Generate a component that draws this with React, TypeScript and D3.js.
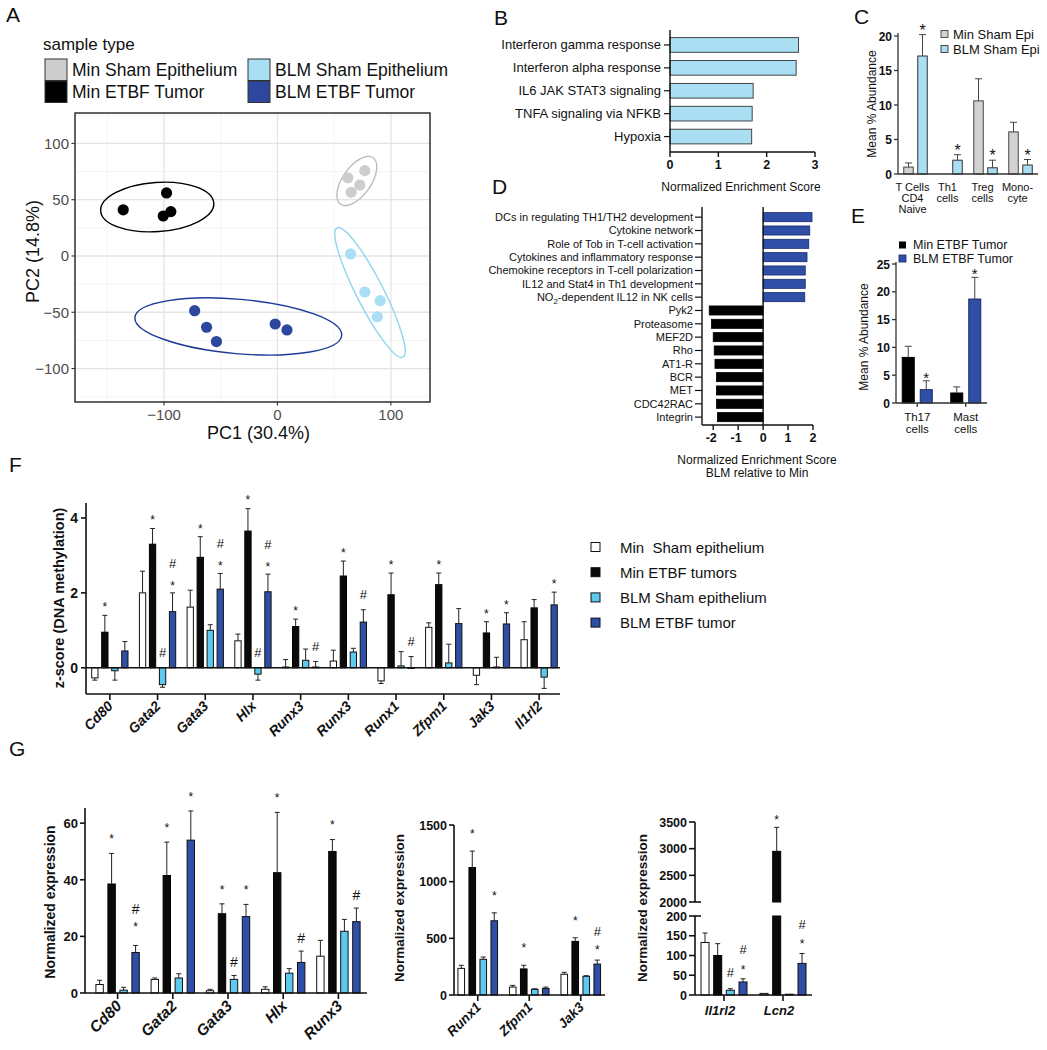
import React from "react";
import * as d3 from "d3";

const FONT = "'Liberation Sans', Arial, Helvetica, sans-serif";

// ---------------- Panel A (PCA) ----------------
const pcaGroups = ["Min Sham Epithelium", "Min ETBF Tumor", "BLM Sham Epithelium", "BLM ETBF Tumor"];
const pcaFill = ["#cdcdcd", "#000000", "#a9def5", "#2d479f"];
const pcaLine = ["#bdbdbd", "#000000", "#8fd4f2", "#1d3a98"];
const pc1MinSham = [62, 77, 72.6, 65];
const pc2MinSham = [69.5, 75.8, 63, 56.6];
const pc1MinTumor = [-136, -97.8, -94, -100.7];
const pc2MinTumor = [41, 56, 39.4, 35.5];
const pc1BlmSham = [64.5, 77, 90.6, 88];
const pc2BlmSham = [1.8, -32, -39.7, -54];
const pc1BlmTumor = [-73, -62.5, -53.8, -2, 8.4];
const pc2BlmTumor = [-48.6, -63.3, -76, -60.4, -65.7];
const ellipseCx = [70, -106, 81.6, -34.5];
const ellipseCy = [66.6, 43.5, -32.4, -62.6];
const ellipseA = [25, 50, 64, 91.5];
const ellipseB = [12.5, 21.7, 12, 24];
const ellipseAngle = [-55, -4, 63, 5];
const pcaXTicks = [-100, 0, 100];
const pcaYTicks = [-100, -50, 0, 50, 100];
const pcaXMinor = [-150, -50, 50];
const pcaYMinor = [-125, -75, -25, 25, 75, 125];

// ---------------- Panel B ----------------
const hallmarkTerms = ["Interferon gamma response", "Interferon alpha response", "IL6 JAK STAT3 signaling", "TNFA signaling via NFKB", "Hypoxia"];
const hallmarkNES = [2.66, 2.61, 1.72, 1.70, 1.69];
const bTicks = [0, 1, 2, 3];

// ---------------- Panel C ----------------
const cCells = [["T Cells", "CD4", "Naive"], ["Th1", "cells"], ["Treg", "cells"], ["Mono-", "cyte"]];
const cMinSham = [1.0, 0, 10.6, 6.1];
const cMinShamErr = [0.6, 0, 3.2, 1.4];
const cBlmSham = [17.1, 2.0, 0.9, 1.3];
const cBlmShamErr = [3.1, 0.8, 1.1, 0.8];
const cBlmShamSig = ["*", "*", "*", "*"];
const cTicks = [0, 5, 10, 15, 20];

// ---------------- Panel D ----------------
const pathwayTerms = [
  "DCs in regulating TH1/TH2 development", "Cytokine network", "Role of Tob in T-cell activation",
  "Cytokines and inflammatory response", "Chemokine receptors in T-cell polarization",
  "IL12 and Stat4 in Th1 development", "NO2-dependent IL12 in NK cells",
  "Pyk2", "Proteasome", "MEF2D", "Rho", "AT1-R", "BCR", "MET", "CDC42RAC", "Integrin",
];
const pathwayNES = [1.96, 1.87, 1.83, 1.76, 1.69, 1.69, 1.67, -2.16, -2.07, -2.0, -1.96, -1.93, -1.87, -1.87, -1.87, -1.83];
const dTicks = [-2, -1, 0, 1, 2];

// ---------------- Panel E ----------------
const eCells = [["Th17", "cells"], ["Mast", "cells"]];
const eMinTumor = [8.2, 1.8];
const eMinTumorErr = [2.0, 1.1];
const eBlmTumor = [2.4, 18.7];
const eBlmTumorErr = [1.6, 3.9];
const eBlmTumorSig = ["*", "*"];
const eTicks = [0, 5, 10, 15, 20, 25];

// ---------------- Panel F ----------------
const fGenes = ["Cd80", "Gata2", "Gata3", "Hlx", "Runx3", "Runx3", "Runx1", "Zfpm1", "Jak3", "Il1rl2"];
const fMinSham = [-0.27, 2.0, 1.62, 0.72, 0.02, 0.18, -0.35, 1.08, -0.2, 0.75];
const fMinShamErr = [0.06, 0.58, 0.45, 0.18, 0.2, 0.29, 0.07, 0.12, 0.25, 0.48];
const fMinTumor = [0.95, 3.3, 2.95, 3.65, 1.1, 2.45, 1.95, 2.22, 0.93, 1.6];
const fMinTumorErr = [0.45, 0.42, 0.55, 0.6, 0.2, 0.4, 0.58, 0.31, 0.3, 0.22];
const fBlmSham = [-0.08, -0.45, 1.0, -0.17, 0.2, 0.42, 0.05, 0.13, 0.02, -0.25];
const fBlmShamErr = [0.25, 0.07, 0.15, 0.16, 0.3, 0.1, 0.38, 0.5, 0.26, 0.3];
const fBlmTumor = [0.45, 1.5, 2.1, 2.03, 0.02, 1.22, 0.0, 1.18, 1.17, 1.68];
const fBlmTumorErr = [0.25, 0.5, 0.42, 0.47, 0.15, 0.33, 0.3, 0.4, 0.3, 0.34];
const fMinShamSig = ["", "", "", "", "", "", "", "", "", ""];
const fMinTumorSig = ["*", "*", "*", "*", "*", "*", "*", "*", "*", ""];
const fBlmShamSig = ["", "#", "", "#", "", "", "", "", "", ""];
const fBlmTumorSig = ["", "*#", "*#", "*#", "#", "#", "#", "", "*", "*"];
const fTicks = [0, 2, 4];
const fLegend = ["Min  Sham epithelium", "Min ETBF tumors", "BLM Sham epithelium", "BLM ETBF tumor"];

// ---------------- Panel G ----------------
const gGenesA = ["Cd80", "Gata2", "Gata3", "Hlx", "Runx3"];
const gMinShamA = [3.0, 4.8, 0.8, 1.3, 13];
const gMinShamAErr = [1.5, 0.5, 0.5, 0.9, 5.6];
const gMinTumorA = [38.5, 41.5, 28, 42.5, 50];
const gMinTumorAErr = [10.8, 11.8, 3.5, 21.3, 4.2];
const gBlmShamA = [1.0, 5.3, 4.8, 7.0, 21.8];
const gBlmShamAErr = [1.0, 1.5, 1.4, 1.6, 4.2];
const gBlmTumorA = [14.3, 54, 27, 10.8, 25.2];
const gBlmTumorAErr = [2.5, 10.3, 4.3, 4.0, 4.8];
const gMinTumorASig = ["*", "*", "*", "*", "*"];
const gBlmShamASig = ["", "", "#", "", ""];
const gBlmTumorASig = ["*#", "*", "*", "#", "#"];
const gTicksA = [0, 20, 40, 60];

const gGenesB = ["Runx1", "Zfpm1", "Jak3"];
const gMinShamB = [235, 70, 183];
const gMinShamBErr = [27, 15, 17];
const gMinTumorB = [1125, 230, 473];
const gMinTumorBErr = [145, 32, 32];
const gBlmShamB = [315, 50, 165];
const gBlmShamBErr = [20, 5, 5];
const gBlmTumorB = [655, 58, 273];
const gBlmTumorBErr = [70, 12, 35];
const gMinTumorBSig = ["*", "*", "*"];
const gBlmTumorBSig = ["*", "", "*#"];
const gTicksB = [0, 500, 1000, 1500];

const gGenesC = ["Il1rl2", "Lcn2"];
const gMinShamC = [133, 4];
const gMinShamCErr = [24, 0];
const gMinTumorC = [100, 2950];
const gMinTumorCErr = [30, 450];
const gBlmShamC = [12, 2];
const gBlmShamCErr = [4, 0];
const gBlmTumorC = [33, 80];
const gBlmTumorCErr = [8, 25];
const gMinTumorCSig = ["", "*"];
const gBlmShamCSig = ["#", ""];
const gBlmTumorCSig = ["*#", "*#"];
const gTicksCLow = [0, 50, 100, 150, 200];
const gTicksCHigh = [2000, 2500, 3000, 3500];

// colours
const WHITE = "#ffffff";
const BLACK = "#0a0a0a";
const CYAN = "#5ec9ef";
const BLUE = "#2f4ea6";
const PALE = "#aadff3";
const GREY = "#d2d2d2";

// ---------- helpers ----------
function Mark({ x, cy, ch, size }: { x: number; cy: number; ch: string; size: number }) {
  const k = ch === "*" ? 0.57 : 0.36;
  return (
    <text x={x} y={cy + k * size} fontSize={size} textAnchor="middle" fill="#111">
      {ch}
    </text>
  );
}

interface Series {
  vals: number[];
  errs: number[];
  sig: string[];
  fill: string;
  stroke: string;
}

interface GroupOpts {
  n: number;
  series: Series[];
  xc: (i: number) => number;
  offsets: number[];
  barW: number;
  segs: (v: number) => [number, number][];
  ymap: (v: number) => number;
  cap: number;
  star: number;
  hash: number;
  bothStar: number;
  bothHash: number;
  starSize: number;
  hashSize: number;
  errColor?: string;
}

function renderGroups(o: GroupOpts, keyp: string) {
  const out: React.ReactNode[] = [];
  o.series.forEach((s, si) => {
    for (let i = 0; i < o.n; i++) {
      const v = s.vals[i];
      const e = s.errs[i];
      const cx = o.xc(i) + o.offsets[si];
      o.segs(v).forEach(([t, b], k) => {
        out.push(
          <rect key={`${keyp}r${si}-${i}-${k}`} x={cx - o.barW / 2} y={t} width={o.barW} height={Math.max(b - t, 0.6)}
            fill={s.fill} stroke={s.stroke} strokeWidth={1} />
        );
      });
      const ec = o.errColor || "#222";
      if (e > 0) {
        const y0 = o.ymap(v);
        const y1 = o.ymap(v >= 0 ? v + e : v - e);
        out.push(<line key={`${keyp}e${si}-${i}`} x1={cx} x2={cx} y1={y0} y2={y1} stroke={ec} strokeWidth={1} />);
        out.push(<line key={`${keyp}c${si}-${i}`} x1={cx - o.cap} x2={cx + o.cap} y1={y1} y2={y1} stroke={ec} strokeWidth={1} />);
      }
      const ref = v >= 0 ? o.ymap(v + e) : o.ymap(0);
      const sg = s.sig[i];
      if (sg === "*") out.push(<Mark key={`${keyp}s${si}-${i}`} x={cx} cy={ref - o.star} ch="*" size={o.starSize} />);
      if (sg === "#") out.push(<Mark key={`${keyp}h${si}-${i}`} x={cx} cy={ref - o.hash} ch="#" size={o.hashSize} />);
      if (sg === "*#") {
        out.push(<Mark key={`${keyp}s${si}-${i}`} x={cx} cy={ref - o.bothStar} ch="*" size={o.starSize} />);
        out.push(<Mark key={`${keyp}h${si}-${i}`} x={cx} cy={ref - o.bothHash} ch="#" size={o.hashSize} />);
      }
    }
  });
  return out;
}

function PanelLetter({ x, y, t }: { x: number; y: number; t: string }) {
  return <text x={x} y={y} fontSize={21} fill="#111">{t}</text>;
}

// ---------- Panel A ----------
function PanelA() {
  const x = d3.scaleLinear().domain([-178.5, 134.5]).range([75, 430]);
  const y = d3.scaleLinear().domain([-129.7, 127]).range([402, 113]);
  const [x0, x1] = x.range();
  const [yb, yt] = y.range();
  const kx = x(1) - x(0);
  const groups = [
    { pc1: pc1MinSham, pc2: pc2MinSham },
    { pc1: pc1MinTumor, pc2: pc2MinTumor },
    { pc1: pc1BlmSham, pc2: pc2BlmSham },
    { pc1: pc1BlmTumor, pc2: pc2BlmTumor },
  ];
  const legendPos = [
    [45, 59], [45, 81], [248, 59], [248, 81],
  ];
  return (
    <g>
      <PanelLetter x={6} y={22} t="A" />
      <text x={43} y={50} fontSize={17} fill="#111">sample type</text>
      {pcaGroups.map((g, i) => (
        <g key={g}>
          <rect x={legendPos[i][0]} y={legendPos[i][1]} width={22} height={21.5} fill={pcaFill[i]} stroke="#333" strokeWidth={1} />
          <text x={legendPos[i][0] + 27} y={legendPos[i][1] + 17} fontSize={17.5} fill="#111">{g}</text>
        </g>
      ))}
      <rect x={x0} y={yt} width={x1 - x0} height={yb - yt} fill="#fff" />
      {pcaXMinor.map((v) => <line key={"xm" + v} x1={x(v)} x2={x(v)} y1={yt} y2={yb} stroke="#efefef" strokeWidth={0.7} />)}
      {pcaYMinor.map((v) => <line key={"ym" + v} x1={x0} x2={x1} y1={y(v)} y2={y(v)} stroke="#efefef" strokeWidth={0.7} />)}
      {pcaXTicks.map((v) => <line key={"xM" + v} x1={x(v)} x2={x(v)} y1={yt} y2={yb} stroke="#e4e4e4" strokeWidth={1.3} />)}
      {pcaYTicks.map((v) => <line key={"yM" + v} x1={x0} x2={x1} y1={y(v)} y2={y(v)} stroke="#e4e4e4" strokeWidth={1.3} />)}
      {ellipseCx.map((cx, i) => (
        <ellipse key={"el" + i} cx={x(cx)} cy={y(ellipseCy[i])} rx={ellipseA[i] * kx} ry={ellipseB[i] * kx}
          transform={`rotate(${ellipseAngle[i]},${x(cx)},${y(ellipseCy[i])})`}
          fill="none" stroke={pcaLine[i]} strokeWidth={1.4} />
      ))}
      {groups.map((g, gi) =>
        g.pc1.map((v, j) => (
          <circle key={`p${gi}-${j}`} cx={x(v)} cy={y(g.pc2[j])} r={5.6} fill={pcaFill[gi]} />
        ))
      )}
      <rect x={x0} y={yt} width={x1 - x0} height={yb - yt} fill="none" stroke="#222" strokeWidth={1.4} />
      {pcaXTicks.map((v) => (
        <g key={"xt" + v}>
          <line x1={x(v)} x2={x(v)} y1={yb} y2={yb + 3.5} stroke="#333" strokeWidth={1.1} />
          <text x={x(v)} y={yb + 18} fontSize={15} fill="#4d4d4d" textAnchor="middle">{v < 0 ? "\u2212" + Math.abs(v) : v}</text>
        </g>
      ))}
      {pcaYTicks.map((v) => (
        <g key={"yt" + v}>
          <line x1={x0 - 3.5} x2={x0} y1={y(v)} y2={y(v)} stroke="#333" strokeWidth={1.1} />
          <text x={x0 - 6} y={y(v) + 5.3} fontSize={15} fill="#4d4d4d" textAnchor="end">{v < 0 ? "\u2212" + Math.abs(v) : v}</text>
        </g>
      ))}
      <text x={(x0 + x1) / 2 + 6} y={439} fontSize={18} fill="#111" textAnchor="middle">PC1 (30.4%)</text>
      <text transform={`translate(${39},${(yt + yb) / 2 - 6}) rotate(-90)`} fontSize={18} fill="#111" textAnchor="middle">PC2 (14.8%)</text>
    </g>
  );
}

// ---------- Panel B ----------
function PanelB() {
  const x = d3.scaleLinear().domain([0, 3]).range([670, 815]);
  const y = d3.scaleBand<string>().domain(hallmarkTerms).range([33.5, 148]).paddingInner(0.36).paddingOuter(0.18);
  const axY = 152;
  return (
    <g>
      <PanelLetter x={494} y={25} t="B" />
      {hallmarkTerms.map((t, i) => (
        <g key={t}>
          <rect x={x(0)} y={y(t)!} width={x(hallmarkNES[i]) - x(0)} height={y.bandwidth()} fill={PALE} stroke="#333" strokeWidth={0.9} />
          <line x1={x(0) - 6} x2={x(0)} y1={y(t)! + y.bandwidth() / 2} y2={y(t)! + y.bandwidth() / 2} stroke="#111" strokeWidth={1.2} />
          <text x={x(0) - 9} y={y(t)! + y.bandwidth() / 2 + 4.5} fontSize={13} textAnchor="end" fill="#111">{t}</text>
        </g>
      ))}
      <line x1={x(0)} x2={x(0)} y1={30} y2={axY} stroke="#111" strokeWidth={1.4} />
      <line x1={x(0)} x2={x(3)} y1={axY} y2={axY} stroke="#111" strokeWidth={1.4} />
      {bTicks.map((v) => (
        <g key={v}>
          <line x1={x(v)} x2={x(v)} y1={axY} y2={axY + 5} stroke="#111" strokeWidth={1.4} />
          <text x={x(v)} y={axY + 17} fontSize={12.5} fontWeight="bold" textAnchor="middle" fill="#111">{v}</text>
        </g>
      ))}
      <text x={741} y={191} fontSize={12} textAnchor="middle" fill="#111">Normalized Enrichment Score</text>
    </g>
  );
}

// ---------- Panel C ----------
function PanelC() {
  const xg = d3.scaleBand<number>().domain(d3.range(cCells.length)).range([898, 1038]);
  const y = d3.scaleLinear().domain([0, 20]).range([174, 36]);
  const xc = (i: number) => xg(i)! + xg.bandwidth() / 2;
  const series: Series[] = [
    { vals: cMinSham, errs: cMinShamErr, sig: ["", "", "", ""], fill: GREY, stroke: "#444" },
    { vals: cBlmSham, errs: cBlmShamErr, sig: cBlmShamSig, fill: PALE, stroke: "#333" },
  ];
  return (
    <g>
      <PanelLetter x={854} y={24} t="C" />
      {renderGroups({
        n: cCells.length, series, xc, offsets: [-7, 7], barW: 9.5,
        segs: (v) => (v > 0 ? [[y(v), y(0)]] : []), ymap: y, cap: 3.5,
        star: 8, hash: 12, bothStar: 8, bothHash: 22, starSize: 16, hashSize: 14, errColor: "#444",
      }, "c")}
      <line x1={898} x2={898} y1={33} y2={174} stroke="#333" strokeWidth={1.3} />
      <line x1={898} x2={1038} y1={174} y2={174} stroke="#333" strokeWidth={1.3} />
      {cTicks.map((v) => (
        <g key={v}>
          <line x1={894} x2={898} y1={y(v)} y2={y(v)} stroke="#333" strokeWidth={1.3} />
          <text x={892} y={y(v) + 4.5} fontSize={12} fontWeight="bold" textAnchor="end" fill="#111">{v}</text>
        </g>
      ))}
      {cCells.map((lines, i) =>
        lines.map((l, j) => (
          <text key={`${i}-${j}`} x={xc(i) - 3} y={191 + j * 11} fontSize={11} textAnchor="middle" fill="#111">{l}</text>
        ))
      )}
      <text transform="translate(876,104) rotate(-90)" fontSize={12} textAnchor="middle" fill="#111">Mean % Abundance</text>
      <rect x={941} y={30.5} width={7} height={7} fill={GREY} stroke="#444" strokeWidth={0.9} />
      <text x={953} y={38.5} fontSize={13} fill="#111">Min Sham Epi</text>
      <rect x={941} y={45.5} width={7} height={7} fill={PALE} stroke="#333" strokeWidth={0.9} />
      <text x={953} y={53.5} fontSize={13} fill="#111">BLM Sham Epi</text>
    </g>
  );
}

// ---------- Panel D ----------
function PanelD() {
  const x = d3.scaleLinear().domain([-2.45, 2]).range([702, 813]);
  const y = d3.scaleBand<string>().domain(pathwayTerms).range([210.5, 423.8]).paddingInner(0.32).paddingOuter(0.16);
  const axY = 425;
  return (
    <g>
      <PanelLetter x={492} y={194} t="D" />
      {pathwayTerms.map((t, i) => {
        const v = pathwayNES[i];
        const yy = y(t)!;
        const cy = yy + y.bandwidth() / 2;
        const isNO2 = t.startsWith("NO2");
        return (
          <g key={t}>
            <rect x={Math.min(x(v), x(0))} y={yy} width={Math.abs(x(v) - x(0))} height={y.bandwidth()}
              fill={v > 0 ? BLUE : "#000"} stroke={v > 0 ? "#1a2a6a" : "#000"} strokeWidth={0.8} />
            <line x1={x.range()[0] - 7} x2={x.range()[0]} y1={cy} y2={cy} stroke="#111" strokeWidth={1.2} />
            {isNO2 ? (
              <text x={x.range()[0] - 9} y={cy + 4} fontSize={11} textAnchor="end" fill="#111">
                NO<tspan dy={3} fontSize={8}>2</tspan><tspan dy={-3}>-dependent IL12 in NK cells</tspan>
              </text>
            ) : (
              <text x={x.range()[0] - 9} y={cy + 4} fontSize={11} textAnchor="end" fill="#111">{t}</text>
            )}
          </g>
        );
      })}
      <line x1={x.range()[0]} x2={x.range()[0]} y1={207} y2={axY} stroke="#111" strokeWidth={1.4} />
      <line x1={x(0)} x2={x(0)} y1={207} y2={axY} stroke="#111" strokeWidth={1.4} />
      <line x1={x.range()[0]} x2={x(2)} y1={axY} y2={axY} stroke="#111" strokeWidth={1.4} />
      {dTicks.map((v) => (
        <g key={v}>
          <line x1={x(v)} x2={x(v)} y1={axY} y2={axY + 5} stroke="#111" strokeWidth={1.4} />
          <text x={x(v) - (v < 0 ? 2 : 0)} y={axY + 17} fontSize={12.5} fontWeight="bold" textAnchor="middle" fill="#111">{v}</text>
        </g>
      ))}
      <text x={757} y={464} fontSize={12} textAnchor="middle" fill="#111">Normalized Enrichment Score</text>
      <text x={757} y={477} fontSize={12} textAnchor="middle" fill="#111">BLM relative to Min</text>
    </g>
  );
}

// ---------- Panel E ----------
function PanelE() {
  const xg = d3.scaleBand<number>().domain(d3.range(eCells.length)).range([893, 990]);
  const y = d3.scaleLinear().domain([0, 25]).range([403, 264]);
  const xc = (i: number) => xg(i)! + xg.bandwidth() / 2;
  const series: Series[] = [
    { vals: eMinTumor, errs: eMinTumorErr, sig: ["", ""], fill: "#000", stroke: "#000" },
    { vals: eBlmTumor, errs: eBlmTumorErr, sig: eBlmTumorSig, fill: BLUE, stroke: "#1a2a6a" },
  ];
  return (
    <g>
      <PanelLetter x={851} y={223} t="E" />
      {renderGroups({
        n: eCells.length, series, xc, offsets: [-9, 9], barW: 12,
        segs: (v) => [[y(v), y(0)]], ymap: y, cap: 3.5,
        star: 6.5, hash: 12, bothStar: 7, bothHash: 20, starSize: 15, hashSize: 14, errColor: "#444",
      }, "e")}
      <line x1={896} x2={896} y1={262} y2={403} stroke="#333" strokeWidth={1.3} />
      <line x1={896} x2={987} y1={403} y2={403} stroke="#333" strokeWidth={1.3} />
      {eTicks.map((v) => (
        <g key={v}>
          <line x1={892} x2={896} y1={y(v)} y2={y(v)} stroke="#333" strokeWidth={1.3} />
          <text x={890} y={y(v) + 4.5} fontSize={12} fontWeight="bold" textAnchor="end" fill="#111">{v}</text>
        </g>
      ))}
      {eCells.map((lines, i) => (
        <g key={i}>
          <line x1={xc(i)} x2={xc(i)} y1={403} y2={407} stroke="#333" strokeWidth={1.3} />
          {lines.map((l, j) => (
            <text key={j} x={xc(i)} y={421 + j * 11.5} fontSize={11.5} textAnchor="middle" fill="#111">{l}</text>
          ))}
        </g>
      ))}
      <text transform="translate(868,337) rotate(-90)" fontSize={12} textAnchor="middle" fill="#111">Mean % Abundance</text>
      <rect x={899} y={241.5} width={7} height={7} fill="#000" />
      <text x={913} y={249} fontSize={12.5} fill="#111">Min ETBF Tumor</text>
      <rect x={899} y={255} width={7} height={7} fill={BLUE} stroke="#1a2a6a" strokeWidth={0.8} />
      <text x={913} y={262.5} fontSize={12.5} fill="#111">BLM ETBF Tumor</text>
    </g>
  );
}

// ---------- Panel F ----------
function PanelF() {
  const xg = d3.scaleBand<number>().domain(d3.range(fGenes.length)).range([86, 563]);
  const y = d3.scaleLinear().domain([-0.7, 4.4]).range([694, 503]);
  const xc = (i: number) => xg(i)! + xg.bandwidth() / 2;
  const series: Series[] = [
    { vals: fMinSham, errs: fMinShamErr, sig: fMinShamSig, fill: WHITE, stroke: "#111" },
    { vals: fMinTumor, errs: fMinTumorErr, sig: fMinTumorSig, fill: BLACK, stroke: "#000" },
    { vals: fBlmSham, errs: fBlmShamErr, sig: fBlmShamSig, fill: CYAN, stroke: "#111" },
    { vals: fBlmTumor, errs: fBlmTumorErr, sig: fBlmTumorSig, fill: BLUE, stroke: "#111" },
  ];
  const legendFills = [WHITE, BLACK, CYAN, BLUE];
  return (
    <g>
      <PanelLetter x={9} y={472} t="F" />
      {renderGroups({
        n: fGenes.length, series, xc, offsets: [-15, -5, 5, 15], barW: 6.3,
        segs: (v) => [[Math.min(y(v), y(0)), Math.max(y(v), y(0))]], ymap: y, cap: 2.5,
        star: 11, hash: 15, bothStar: 10, bothHash: 30, starSize: 12, hashSize: 13,
      }, "f")}
      <line x1={86} x2={560} y1={y(0)} y2={y(0)} stroke="#111" strokeWidth={1.4} />
      <line x1={86} x2={86} y1={503} y2={694} stroke="#111" strokeWidth={1.6} />
      <line x1={86} x2={560} y1={694} y2={694} stroke="#111" strokeWidth={1.6} />
      {fTicks.map((v) => (
        <g key={v}>
          <line x1={81} x2={86} y1={y(v)} y2={y(v)} stroke="#111" strokeWidth={1.6} />
          <text x={78} y={y(v) + 5} fontSize={14} fontWeight="bold" textAnchor="end" fill="#111">{v}</text>
        </g>
      ))}
      {fGenes.map((g, i) => (
        <g key={i}>
          <line x1={xc(i)} x2={xc(i)} y1={694} y2={700} stroke="#111" strokeWidth={1.6} />
          <text transform={`translate(${xc(i) + 4},${707}) rotate(-45)`} fontSize={14} fontWeight="bold" fontStyle="italic" textAnchor="end" fill="#111">{g}</text>
        </g>
      ))}
      <text transform="translate(64,598) rotate(-90)" fontSize={14.5} fontWeight="bold" textAnchor="middle" fill="#111">z-score (DNA methylation)</text>
      {fLegend.map((l, i) => (
        <g key={l}>
          <rect x={591} y={542.5 + i * 25.2} width={9} height={9} fill={legendFills[i]} stroke="#111" strokeWidth={1} />
          <text x={620} y={552.5 + i * 25.2} fontSize={15} fill="#111" style={{ whiteSpace: "pre" }}>{l}</text>
        </g>
      ))}
    </g>
  );
}

// ---------- Panel G ----------
function GAxisLabel({ x, y, size }: { x: number; y: number; size: number }) {
  return <text transform={`translate(${x},${y}) rotate(-90)`} fontSize={size} fontWeight="bold" textAnchor="middle" fill="#111">Normalized expression</text>;
}

function PanelG() {
  // left
  const xA = d3.scaleBand<number>().domain(d3.range(gGenesA.length)).range([90, 366]);
  const yA = d3.scaleLinear().domain([0, 65]).range([993, 809]);
  const xcA = (i: number) => xA(i)! + xA.bandwidth() / 2;
  const seriesA: Series[] = [
    { vals: gMinShamA, errs: gMinShamAErr, sig: ["", "", "", "", ""], fill: WHITE, stroke: "#111" },
    { vals: gMinTumorA, errs: gMinTumorAErr, sig: gMinTumorASig, fill: BLACK, stroke: "#000" },
    { vals: gBlmShamA, errs: gBlmShamAErr, sig: gBlmShamASig, fill: CYAN, stroke: "#111" },
    { vals: gBlmTumorA, errs: gBlmTumorAErr, sig: gBlmTumorASig, fill: BLUE, stroke: "#111" },
  ];
  // middle
  const xB = d3.scaleBand<number>().domain(d3.range(gGenesB.length)).range([451, 605.5]);
  const yB = d3.scaleLinear().domain([0, 1500]).range([995, 825]);
  const xcB = (i: number) => xB(i)! + xB.bandwidth() / 2 + 1;
  const seriesB: Series[] = [
    { vals: gMinShamB, errs: gMinShamBErr, sig: ["", "", ""], fill: WHITE, stroke: "#111" },
    { vals: gMinTumorB, errs: gMinTumorBErr, sig: gMinTumorBSig, fill: BLACK, stroke: "#000" },
    { vals: gBlmShamB, errs: gBlmShamBErr, sig: ["", "", ""], fill: CYAN, stroke: "#111" },
    { vals: gBlmTumorB, errs: gBlmTumorBErr, sig: gBlmTumorBSig, fill: BLUE, stroke: "#111" },
  ];
  // right (broken axis)
  const xC = d3.scaleBand<number>().domain(d3.range(gGenesC.length)).range([694.5, 812.5]);
  const yLow = d3.scaleLinear().domain([0, 200]).range([995, 916]);
  const yHigh = d3.scaleLinear().domain([2000, 3500]).range([902, 822]);
  const ymapC = (v: number) => (v <= 200 ? yLow(v) : v >= 2000 ? yHigh(v) : yLow(200));
  const segsC = (v: number): [number, number][] =>
    v <= 200 ? [[yLow(v), yLow(0)]] : [[yLow(200), yLow(0)], [yHigh(v), yHigh(2000)]];
  const xcC = (i: number) => xC(i)! + xC.bandwidth() / 2;
  const seriesC: Series[] = [
    { vals: gMinShamC, errs: gMinShamCErr, sig: ["", ""], fill: WHITE, stroke: "#111" },
    { vals: gMinTumorC, errs: gMinTumorCErr, sig: gMinTumorCSig, fill: BLACK, stroke: "#000" },
    { vals: gBlmShamC, errs: gBlmShamCErr, sig: gBlmShamCSig, fill: CYAN, stroke: "#111" },
    { vals: gBlmTumorC, errs: gBlmTumorCErr, sig: gBlmTumorCSig, fill: BLUE, stroke: "#111" },
  ];
  const ax = "#111";
  return (
    <g>
      <PanelLetter x={9} y={756} t="G" />
      {/* left */}
      {renderGroups({
        n: gGenesA.length, series: seriesA, xc: xcA, offsets: [-18, -6, 6, 18], barW: 7.4,
        segs: (v) => [[yA(v), yA(0)]], ymap: yA, cap: 2.5,
        star: 17, hash: 13, bothStar: 21, bothHash: 36, starSize: 12, hashSize: 14,
      }, "ga")}
      <line x1={85} x2={85} y1={808} y2={993} stroke={ax} strokeWidth={1.6} />
      <line x1={85} x2={367} y1={993} y2={993} stroke={ax} strokeWidth={1.6} />
      {gTicksA.map((v) => (
        <g key={v}>
          <line x1={80} x2={85} y1={yA(v)} y2={yA(v)} stroke={ax} strokeWidth={1.6} />
          <text x={78} y={yA(v) + 4.8} fontSize={13} fontWeight="bold" textAnchor="end" fill="#111">{v}</text>
        </g>
      ))}
      {gGenesA.map((g, i) => (
        <g key={i}>
          <line x1={xcA(i)} x2={xcA(i)} y1={993} y2={999} stroke={ax} strokeWidth={1.6} />
          <text transform={`translate(${xcA(i) + 5},${1007}) rotate(-45)`} fontSize={15.5} fontWeight="bold" fontStyle="italic" textAnchor="end" fill="#111">{g}</text>
        </g>
      ))}
      <GAxisLabel x={55} y={902} size={14} />

      {/* middle */}
      {renderGroups({
        n: gGenesB.length, series: seriesB, xc: xcB, offsets: [-16.5, -5.5, 5.5, 16.5], barW: 6.6,
        segs: (v) => [[yB(v), yB(0)]], ymap: yB, cap: 2.5,
        star: 20, hash: 13, bothStar: 13, bothHash: 29, starSize: 12, hashSize: 13,
      }, "gb")}
      <line x1={454} x2={454} y1={825} y2={995} stroke={ax} strokeWidth={1.6} />
      <line x1={454} x2={605} y1={995} y2={995} stroke={ax} strokeWidth={1.6} />
      {gTicksB.map((v) => (
        <g key={v}>
          <line x1={449} x2={454} y1={yB(v)} y2={yB(v)} stroke={ax} strokeWidth={1.6} />
          <text x={447} y={yB(v) + 4.5} fontSize={12.5} fontWeight="bold" textAnchor="end" fill="#111">{v}</text>
        </g>
      ))}
      {gGenesB.map((g, i) => (
        <g key={i}>
          <line x1={xcB(i)} x2={xcB(i)} y1={995} y2={1001} stroke={ax} strokeWidth={1.6} />
          <text transform={`translate(${xcB(i) + 4},${1008}) rotate(-45)`} fontSize={13.5} fontWeight="bold" fontStyle="italic" textAnchor="end" fill="#111">{g}</text>
        </g>
      ))}
      <GAxisLabel x={404} y={908} size={13.5} />

      {/* right */}
      {renderGroups({
        n: gGenesC.length, series: seriesC, xc: xcC, offsets: [-19, -6.3, 6.3, 19], barW: 8,
        segs: segsC, ymap: ymapC, cap: 2.5,
        star: 10, hash: 16, bothStar: 12, bothHash: 29, starSize: 12, hashSize: 13,
      }, "gc")}
      <line x1={695} x2={695} y1={822} y2={902} stroke={ax} strokeWidth={1.6} />
      <line x1={695} x2={695} y1={916} y2={995} stroke={ax} strokeWidth={1.6} />
      <line x1={695} x2={812} y1={995} y2={995} stroke={ax} strokeWidth={1.6} />
      {gTicksCHigh.map((v) => (
        <g key={"h" + v}>
          <line x1={689} x2={v === 2000 ? 701 : 695} y1={yHigh(v)} y2={yHigh(v)} stroke={ax} strokeWidth={1.6} />
          <text x={687} y={yHigh(v) + 4.5} fontSize={12.5} fontWeight="bold" textAnchor="end" fill="#111">{v}</text>
        </g>
      ))}
      {gTicksCLow.map((v) => (
        <g key={"l" + v}>
          <line x1={689} x2={v === 200 ? 701 : 695} y1={yLow(v)} y2={yLow(v)} stroke={ax} strokeWidth={1.6} />
          <text x={687} y={yLow(v) + 4.5} fontSize={12.5} fontWeight="bold" textAnchor="end" fill="#111">{v}</text>
        </g>
      ))}
      {gGenesC.map((g, i) => (
        <g key={i}>
          <line x1={xcC(i)} x2={xcC(i)} y1={995} y2={1001} stroke={ax} strokeWidth={1.6} />
          <text x={xcC(i) - 4} y={1015} fontSize={13} fontWeight="bold" fontStyle="italic" textAnchor="middle" fill="#111">{g}</text>
        </g>
      ))}
      <GAxisLabel x={647} y={908} size={13.5} />
    </g>
  );
}

export default function App() {
  return (
    <svg width={1047} height={1050} viewBox="0 0 1047 1050" fontFamily={FONT}
      style={{ position: "absolute", left: 0, top: 0, display: "block", background: "#fff" }}>
      <rect x={0} y={0} width={1047} height={1050} fill="#fff" />
      <PanelA />
      <PanelB />
      <PanelC />
      <PanelD />
      <PanelE />
      <PanelF />
      <PanelG />
    </svg>
  );
}
